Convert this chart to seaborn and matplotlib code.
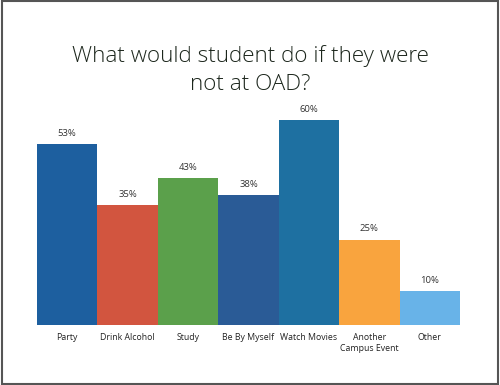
import matplotlib
matplotlib.use("Agg")
import matplotlib.pyplot as plt
import seaborn as sns
import pandas as pd
from matplotlib.patches import Rectangle

categories = ["Party", "Drink Alcohol", "Study", "Be By Myself", "Watch Movies",
              "Another\nCampus Event", "Other"]
values = [53, 35, 43, 38, 60, 25, 10]
colors = ["#1D5F9F", "#D2553F", "#5BA04B", "#2A5B96", "#1E70A1", "#F9A43E", "#68B3E8"]
title = "What would student do if they were\nnot at OAD?"

sns.set_theme(style="white")
plt.rcParams["font.family"] = ["Open Sans", "DejaVu Sans"]

df = pd.DataFrame({"cat": categories, "val": values})

fig = plt.figure(figsize=(5.0, 3.85), dpi=100)
fig.patch.set_facecolor("white")
ax = fig.add_axes([0.074, 0.156, 0.846, 0.532])
sns.barplot(data=df, x="cat", y="val", hue="cat", palette=colors, legend=False,
            width=1.0, saturation=1.0, linewidth=0, ax=ax)
ax.set_ylim(0, 60)
ax.set_xlim(-0.5, len(categories) - 0.5)
for i, v in enumerate(values):
    ax.text(i, v + 1.8, f"{v}%", ha="center", va="bottom", fontsize=6.8, color="#333333")
ax.set_xlabel("")
ax.set_ylabel("")
ax.set_yticks([])
ax.tick_params(axis="x", length=0, labelsize=6.3, colors="#222222", pad=6)
for s in ax.spines.values():
    s.set_visible(False)
for p in ax.patches:
    p.set_clip_on(False)

fig.text(0.5, 0.818, title, ha="center", va="center", fontsize=16.2, color="#1c261c",
         linespacing=1.45, fontweight="light")

fig.patches.append(Rectangle((0.004, 0.003), 0.992, 0.994, transform=fig.transFigure,
                             fill=False, edgecolor="#555555", linewidth=1.5))

fig.savefig("out.png", dpi=100, facecolor="white")
